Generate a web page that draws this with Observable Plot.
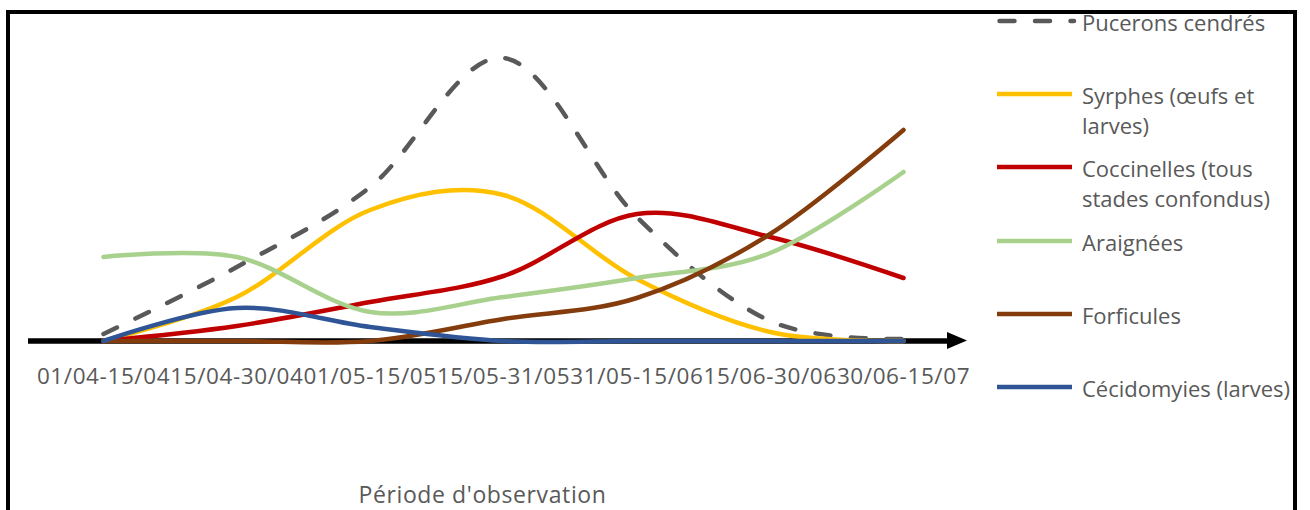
<!DOCTYPE html>
<html>
<head>
<meta charset="utf-8">
<script src="https://cdn.jsdelivr.net/npm/d3@7"></script>
<script src="https://cdn.jsdelivr.net/npm/@observablehq/plot@0.6"></script>
<style>
html, body { margin: 0; padding: 0; background: #fff; }
#wrap { position: relative; width: 1310px; height: 510px; overflow: hidden; font-family: "Open Sans", sans-serif; background: #fff; }
#chart { position: absolute; left: 0; top: 0; }
#frame { position: absolute; left: 6px; top: 10px; width: 1283px; height: 530px; border: 4px solid #000; border-bottom: none; pointer-events: none; }
#legend { position: absolute; left: 990px; top: 0; width: 303px; height: 510px; }
.item { position: absolute; left: 0; width: 303px; height: 70px; }
.item svg { position: absolute; left: 0; top: 0; }
.item .lab { position: absolute; left: 92px; top: 0; white-space: pre; font-size: 22px; line-height: 30px; color: #595959; }
</style>
</head>
<body>
<div id="wrap">
  <div id="chart"></div>
  <div id="legend"></div>
  <div id="frame"></div>
</div>
<script>
// ---- data ----
const periods = ["01/04-15/04", "15/04-30/04", "01/05-15/05", "15/05-31/05", "31/05-15/06", "15/06-30/06", "30/06-15/07"];
const seriesNames = ["Pucerons cendrés", "Syrphes (œufs et\nlarves)", "Coccinelles (tous\nstades confondus)", "Araignées", "Forficules", "Cécidomyies (larves)"];
const seriesColors = ["#595959", "#FFC000", "#C00000", "#A9D18E", "#843C0C", "#2F5597"];
const pucerons    = [7, 74, 154, 283, 124, 20, 2];
const syrphes     = [0, 44, 131, 146, 62, 9, 0];
const coccinelles = [0, 15, 39, 65, 127, 104, 63];
const araignees   = [84, 84, 29, 44, 63, 88, 169];
const forficules  = [0, 0, 0, 22, 43, 107, 211];
const cecidomyies = [0, 33, 14, 0, 0, 0, 0];
const seriesValues = [pucerons, syrphes, coccinelles, araignees, forficules, cecidomyies];
const axisTitle = "Période d'observation";

// ---- long table ----
const rows = seriesValues.flatMap((vals, s) => vals.map((v, i) => ({serie: seriesNames[s], i, v})));

const lineMarks = seriesNames.map((name, s) =>
  Plot.line(rows.filter(d => d.serie === name), {
    x: "i", y: "v", curve: "cardinal",
    stroke: seriesColors[s], strokeWidth: 4.5,
    strokeLinecap: "round", strokeLinejoin: "round",
    strokeDasharray: s === 0 ? "15,20.5" : null
  })
);

const plot = Plot.plot({
  width: 1310, height: 510,
  marginLeft: 103, marginRight: 407, marginTop: 40.5, marginBottom: 169.5,
  x: {type: "linear", domain: [0, periods.length - 1], axis: null},
  y: {domain: [0, 300], axis: null},
  style: {fontFamily: "'Open Sans', sans-serif", color: "#595959", background: "transparent", overflow: "visible"},
  marks: [
    Plot.ruleY([0], {x1: -0.5625, x2: 6.36, stroke: "#000", strokeWidth: 5.5}),
    Plot.axisX({
      ticks: periods.map((_, i) => i), tickFormat: i => periods[i],
      tickSize: 0, tickPadding: 27, fontSize: 22.5, label: null, fill: "#595959"
    }),
    ...lineMarks,
    Plot.text([axisTitle], {text: d => d, frameAnchor: "bottom", dx: -21, dy: 161.5, lineAnchor: "bottom", fontSize: 23, fill: "#595959"})
  ]
});

// arrow head drawn through the plot's own scales
const sx = plot.scale("x"), sy = plot.scale("y");
const x0 = sx.apply(6.33), x1 = sx.apply(6.48), y0 = sy.apply(0);
d3.select(plot).append("path")
  .attr("d", `M${x0},${y0 - 8.5}L${x1},${y0}L${x0},${y0 + 8.5}Z`)
  .attr("fill", "#000");

d3.select(plot).selectAll("text").style("letter-spacing", "0.6px");
document.getElementById("chart").appendChild(plot);

// ---- legend ----
const legend = d3.select("#legend");
seriesNames.forEach((name, s) => {
  const item = legend.append("div").attr("class", "item").style("top", (7 + 73.2 * s) + "px");
  const svg = item.append("svg").attr("width", 90).attr("height", 28);
  if (s === 0) {
    svg.append("line").attr("x1", 9.5).attr("x2", 84).attr("y1", 14).attr("y2", 14)
      .attr("stroke", seriesColors[s]).attr("stroke-width", 4.5)
      .attr("stroke-linecap", "round").attr("stroke-dasharray", "15,20.5");
  } else {
    svg.append("line").attr("x1", 7).attr("x2", 82).attr("y1", 14).attr("y2", 14)
      .attr("stroke", seriesColors[s]).attr("stroke-width", 4.5);
  }
  item.append("div").attr("class", "lab").text(name);
});
</script>
</body>
</html>
